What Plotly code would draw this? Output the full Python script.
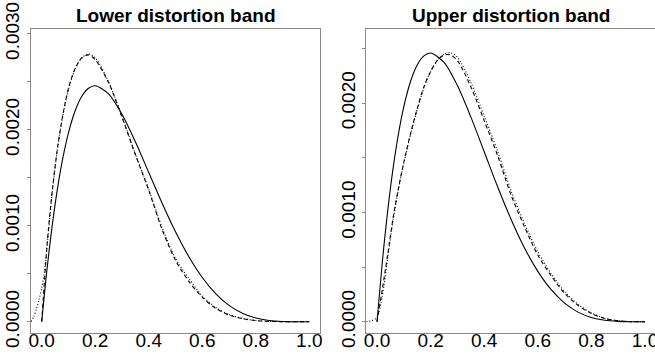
import plotly.graph_objects as go

# Density estimates (values in units of 1e-3)
x_grid = [0, 0.02, 0.04, 0.06, 0.08, 0.10, 0.125, 0.15, 0.175, 0.2, 0.25, 0.3, 0.35,
          0.4, 0.45, 0.5, 0.55, 0.6, 0.65, 0.7, 0.75, 0.8, 0.85, 0.9, 0.95, 1.0]
reference = [0, 0.553, 1.019, 1.405, 1.719, 1.968, 2.198, 2.349, 2.432, 2.458, 2.373, 2.161,
             1.874, 1.555, 1.235, 0.938, 0.677, 0.461, 0.293, 0.170, 0.088, 0.038, 0.013,
             0.003, 0.0002, 0]

lower_dashed = [0, 0.80, 1.38, 1.83, 2.17, 2.43, 2.64, 2.75, 2.78, 2.73, 2.49, 2.13, 1.74,
                1.37, 0.96, 0.64, 0.42, 0.255, 0.14, 0.07, 0.032, 0.012, 0.004, 0.001, 0.0002, 0]

x_lower_dot = [-0.04, -0.03, -0.02, -0.01, 0, 0.01, 0.02, 0.04, 0.06, 0.08, 0.10, 0.125, 0.15,
               0.175, 0.2, 0.25, 0.3, 0.35, 0.4, 0.45, 0.5, 0.55, 0.6, 0.65, 0.7, 0.75, 0.8,
               0.85, 0.9, 0.95, 1.0]
lower_dotted = [0, 0.05, 0.13, 0.23, 0.35, 0.52, 0.78, 1.36, 1.82, 2.16, 2.42, 2.63, 2.75,
                2.79, 2.75, 2.50, 2.14, 1.75, 1.38, 0.98, 0.66, 0.45, 0.27, 0.15, 0.075, 0.034,
                0.013, 0.004, 0.001, 0.0002, 0]

x_upper = [0, 0.02, 0.04, 0.06, 0.08, 0.10, 0.125, 0.15, 0.175, 0.2, 0.225, 0.25, 0.275, 0.3,
           0.35, 0.4, 0.45, 0.5, 0.55, 0.6, 0.65, 0.7, 0.75, 0.8, 0.85, 0.9, 0.95, 1.0]
upper_dashed = [0, 0.30, 0.62, 0.95, 1.22, 1.46, 1.72, 1.95, 2.15, 2.29, 2.39, 2.44, 2.44, 2.39,
                2.15, 1.84, 1.52, 1.16, 0.87, 0.61, 0.42, 0.26, 0.15, 0.075, 0.03, 0.008, 0.001, 0]

x_upper_dot = [-0.04, -0.02, 0, 0.02, 0.04, 0.06, 0.08, 0.10, 0.125, 0.15, 0.175, 0.2, 0.225,
               0.25, 0.275, 0.3, 0.35, 0.4, 0.45, 0.5, 0.55, 0.6, 0.65, 0.7, 0.75, 0.8, 0.85,
               0.9, 0.95, 1.0]
upper_dotted = [0, 0.01, 0.04, 0.24, 0.58, 0.93, 1.21, 1.45, 1.71, 1.94, 2.14, 2.29, 2.39, 2.45,
                2.46, 2.42, 2.19, 1.88, 1.56, 1.20, 0.90, 0.64, 0.44, 0.275, 0.16, 0.08, 0.032,
                0.009, 0.001, 0]

x_ticks = [0, 0.2, 0.4, 0.6, 0.8, 1.0]
x_tick_text = ["0.0", "0.2", "0.4", "0.6", "0.8", "1.0"]
y_ticks_lower = [0, 0.001, 0.002, 0.003]
y_ticks_upper = [0, 0.001, 0.002]
panel_titles = ["Lower distortion band", "Upper distortion band"]

SCALE = 1e-3
W, H = 655, 355
FONT = "Arial, Liberation Sans, sans-serif"
BOX = "#8a8a8a"


def scaled(vals):
    return [v * SCALE for v in vals]


def curve(xs, ys, dash, xa, ya):
    return go.Scatter(x=xs, y=scaled(ys), mode="lines", xaxis=xa, yaxis=ya,
                      line=dict(color="black", width=1.1, dash=dash, shape="spline",
                                smoothing=0.8),
                      showlegend=False, hoverinfo="skip")


fig = go.Figure()
fig.add_trace(curve(x_grid, reference, "solid", "x", "y"))
fig.add_trace(curve(x_grid, lower_dashed, "4px,3px", "x", "y"))
fig.add_trace(curve(x_lower_dot, lower_dotted, "1px,2px", "x", "y"))
fig.add_trace(curve(x_grid, reference, "solid", "x2", "y2"))
fig.add_trace(curve(x_upper, upper_dashed, "4px,3px", "x2", "y2"))
fig.add_trace(curve(x_upper_dot, upper_dotted, "1px,2px", "x2", "y2"))

y_dom = [(H - 333) / H, (H - 29) / H]
tickfont = dict(family=FONT, size=19, color="black")

common_x = dict(tickvals=x_ticks, ticktext=x_tick_text, ticks="",
                showgrid=False, zeroline=False, showline=True, linecolor=BOX, linewidth=1,
                tickfont=tickfont, automargin=False, ticklabeloverflow="allow",
                ticklabelstandoff=-10, fixedrange=True)
common_y = dict(showgrid=False, zeroline=False, showline=True, linecolor=BOX, linewidth=1,
                ticks="outside", ticklen=3, tickcolor=BOX, tickwidth=1, tickangle=-90,
                tickformat=".4f", tickfont=tickfont, automargin=False,
                ticklabeloverflow="allow", domain=y_dom,
                minor=dict(dtick=0.0005, tick0=0, ticks="outside", ticklen=3,
                           tickcolor=BOX, tickwidth=1, showgrid=False))

fig.update_layout(
    width=W, height=H, autosize=False, template="none",
    margin=dict(l=0, r=0, t=0, b=0),
    paper_bgcolor="white", plot_bgcolor="white",
    xaxis=dict(common_x, domain=[31 / W, 320 / W], range=[-0.04, 1.04], mirror=True,
               anchor="y"),
    yaxis=dict(common_y, range=[-0.0001173, 0.0030493], tickvals=y_ticks_lower,
               mirror=True, anchor="x"),
    xaxis2=dict(common_x, domain=[366.3 / W, 1.0], range=[-0.04, 1.0373], mirror=True,
                anchor="y2"),
    yaxis2=dict(common_y, range=[-0.000103, 0.002678], tickvals=y_ticks_upper,
                mirror=False, anchor="x2"),
    annotations=[
        dict(text=f"<b>{panel_titles[0]}</b>", x=175.5 / W, y=(H - 15) / H,
             xref="paper", yref="paper", showarrow=False, xanchor="center",
             yanchor="middle", font=dict(family=FONT, size=19, color="black")),
        dict(text=f"<b>{panel_titles[1]}</b>", x=511 / W, y=(H - 15) / H,
             xref="paper", yref="paper", showarrow=False, xanchor="center",
             yanchor="middle", font=dict(family=FONT, size=19, color="black")),
    ],
)

fig.write_html("out.html")
